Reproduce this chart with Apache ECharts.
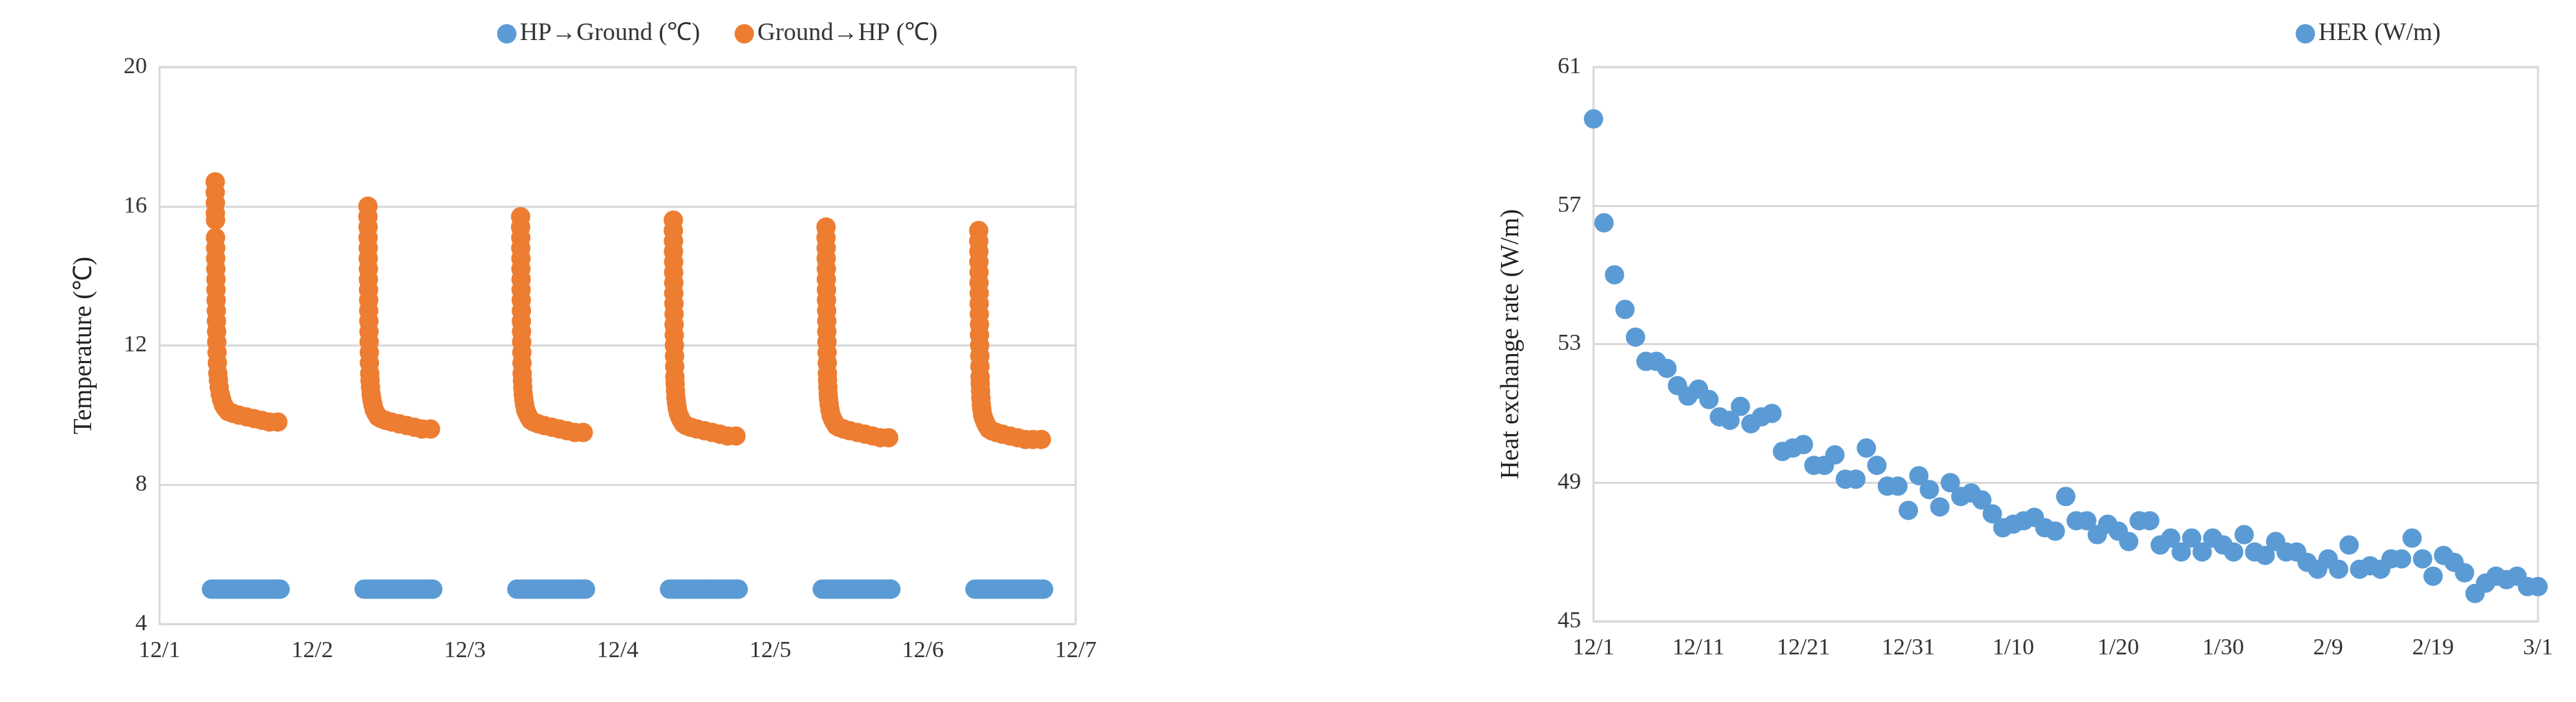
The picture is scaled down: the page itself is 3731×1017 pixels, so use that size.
<!DOCTYPE html>
<html><head><meta charset="utf-8">
<script src="https://cdn.jsdelivr.net/npm/echarts@6/dist/echarts.min.js"></script>
<style>html,body{margin:0;padding:0;background:#fff}#c{width:3731px;height:1017px}</style>
</head><body><div id="c"></div>
<script>
const leftTicks = ['12/1','12/2','12/3','12/4','12/5','12/6','12/7'];
const rightTicks = ['12/1','12/11','12/21','12/31','1/10','1/20','1/30','2/9','2/19','3/1'];
const orangeOffsets = [0.365,0.365,0.366,0.366,0.367,0.367,0.368,0.368,0.369,0.370,0.370,0.371,0.372,0.373,0.374,0.375,0.377,0.379,0.382,0.386,0.391,0.398,0.407,0.418,0.432,0.45,0.48,0.52,0.57,0.62,0.67,0.72,0.775];
const groundToHP = [
 [16.7,16.4,16.1,15.8,15.6,15.1,14.8,14.5,14.2,13.9,13.6,13.3,13.0,12.7,12.4,12.1,11.8,11.5,11.2,11.0,10.8,10.6,10.45,10.3,10.2,10.1,10.05,10.0,9.95,9.9,9.85,9.8,9.8],
 [16.0,15.7,15.4,15.1,14.8,14.5,14.2,13.9,13.6,13.3,13.0,12.7,12.4,12.1,11.8,11.5,11.2,11.0,10.8,10.6,10.45,10.3,10.15,10.05,9.95,9.9,9.85,9.8,9.75,9.7,9.65,9.6,9.6],
 [15.7,15.4,15.1,14.8,14.5,14.2,13.9,13.6,13.3,13.0,12.7,12.4,12.1,11.8,11.5,11.2,11.0,10.8,10.6,10.45,10.3,10.15,10.05,9.95,9.85,9.8,9.75,9.7,9.65,9.6,9.55,9.5,9.5],
 [15.6,15.3,15.0,14.7,14.4,14.1,13.8,13.5,13.2,12.9,12.6,12.3,12.0,11.7,11.4,11.1,10.9,10.7,10.5,10.35,10.2,10.05,9.95,9.85,9.75,9.7,9.65,9.6,9.55,9.5,9.45,9.4,9.4],
 [15.4,15.1,14.8,14.5,14.2,13.9,13.6,13.3,13.0,12.7,12.4,12.1,11.8,11.5,11.2,11.0,10.8,10.6,10.45,10.3,10.15,10.0,9.9,9.8,9.7,9.65,9.6,9.55,9.5,9.45,9.4,9.35,9.35],
 [15.3,15.0,14.7,14.4,14.1,13.8,13.5,13.2,12.9,12.6,12.3,12.0,11.7,11.4,11.1,10.9,10.7,10.5,10.3,10.15,10.0,9.9,9.8,9.7,9.6,9.55,9.5,9.45,9.4,9.35,9.3,9.3,9.3]
];
const blueOffsets = [0.34,0.36,0.38,0.40,0.42,0.44,0.46,0.48,0.50,0.52,0.54,0.56,0.58,0.60,0.62,0.64,0.66,0.68,0.70,0.72,0.74,0.76,0.78,0.79];
const hpToGround = [5.0,5.0,5.0,5.0,5.0,5.0];
const her = [59.5,56.5,55.0,54.0,53.2,52.5,52.5,52.3,51.8,51.5,51.7,51.4,50.9,50.8,51.2,50.7,50.9,51.0,49.9,50.0,50.1,49.5,49.5,49.8,49.1,49.1,50.0,49.5,48.9,48.9,48.2,49.2,48.8,48.3,49.0,48.6,48.7,48.5,48.1,47.7,47.8,47.9,48.0,47.7,47.6,48.6,47.9,47.9,47.5,47.8,47.6,47.3,47.9,47.9,47.2,47.4,47.0,47.4,47.0,47.4,47.2,47.0,47.5,47.0,46.9,47.3,47.0,47.0,46.7,46.5,46.8,46.5,47.2,46.5,46.6,46.5,46.8,46.8,47.4,46.8,46.3,46.9,46.7,46.4,45.8,46.1,46.3,46.2,46.3,46.0,46.0];

const orangeData = [], blueData = [];
groundToHP.forEach((arr, d) => arr.forEach((v, i) => orangeData.push([d + orangeOffsets[i], v])));
hpToGround.forEach((v, d) => blueOffsets.forEach(o => blueData.push([d + o, v])));
const herData = her.map((v, i) => [i, v]);

const F = 'Liberation Serif';
const txt = {fontFamily: F, fontSize: 34, color: '#333'};
const gridLine = {show: true, lineStyle: {color: '#d9d9d9', width: 3}};
const chart = echarts.init(document.getElementById('c'));
chart.setOption({
  animation: false,
  legend: [
    {data: ['HP→Ground (℃)', 'Ground→HP (℃)'], left: 715, top: 26, itemWidth: 28, itemHeight: 28, itemGap: 50, icon: 'circle', textStyle: {fontFamily: F, fontSize: 36, color: '#333'}},
    {data: ['HER (W/m)'], left: 3320, top: 26, itemWidth: 28, itemHeight: 28, icon: 'circle', textStyle: {fontFamily: F, fontSize: 36, color: '#333'}}
  ],
  grid: [
    {left: 231, right: 2173, top: 97, bottom: 113, show: true, borderColor: '#d9d9d9', borderWidth: 3},
    {left: 2308, right: 55, top: 97, bottom: 117, show: true, borderColor: '#d9d9d9', borderWidth: 3}
  ],
  xAxis: [
    {type: 'value', gridIndex: 0, min: 0, max: 6, interval: 1, splitLine: {show: false},
     axisLine: {show: false}, axisTick: {show: false},
     axisLabel: Object.assign({margin: 22, formatter: v => leftTicks[Math.round(v)]}, txt)},
    {type: 'value', gridIndex: 1, min: 0, max: 90, interval: 10, splitLine: {show: false},
     axisLine: {show: false}, axisTick: {show: false},
     axisLabel: Object.assign({margin: 22, formatter: v => rightTicks[Math.round(v / 10)]}, txt)}
  ],
  yAxis: [
    {type: 'value', gridIndex: 0, min: 4, max: 20, interval: 4, splitLine: gridLine,
     axisLine: {show: false}, axisTick: {show: false}, axisLabel: Object.assign({margin: 18}, txt),
     name: 'Temperature (℃)', nameLocation: 'middle', nameGap: 90, nameTextStyle: {fontFamily: F, fontSize: 37, color: '#222'}},
    {type: 'value', gridIndex: 1, min: 45, max: 61, interval: 4, splitLine: gridLine,
     axisLine: {show: false}, axisTick: {show: false}, axisLabel: Object.assign({margin: 18}, txt),
     name: 'Heat exchange rate (W/m)', nameLocation: 'middle', nameGap: 100, nameTextStyle: {fontFamily: F, fontSize: 37, color: '#222'}}
  ],
  series: [
    {name: 'HP→Ground (℃)', type: 'scatter', xAxisIndex: 0, yAxisIndex: 0, data: blueData, symbolSize: 28, itemStyle: {color: '#5b9bd5', opacity: 1}},
    {name: 'Ground→HP (℃)', type: 'scatter', xAxisIndex: 0, yAxisIndex: 0, data: orangeData, symbolSize: 28, itemStyle: {color: '#ed7d31', opacity: 1}},
    {name: 'HER (W/m)', type: 'scatter', xAxisIndex: 1, yAxisIndex: 1, data: herData, symbolSize: 28, itemStyle: {color: '#5b9bd5', opacity: 1}}
  ]
});
</script></body></html>
